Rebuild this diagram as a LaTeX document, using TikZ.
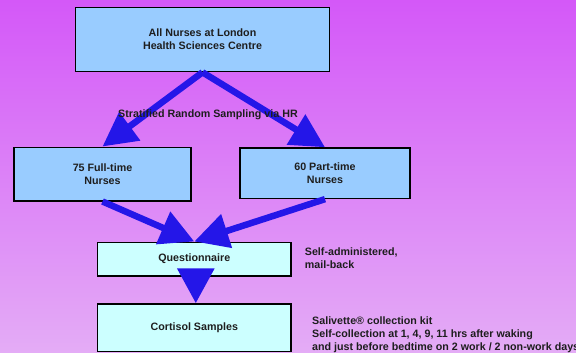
\documentclass[tikz,border=0pt]{standalone}
\usepackage{fontspec}
\setmainfont{Liberation Sans}
\usetikzlibrary{arrows.meta}
\definecolor{bgtop}{RGB}{212,88,248}
\definecolor{bgbot}{RGB}{228,172,246}
\definecolor{boxblue}{RGB}{153,204,255}
\definecolor{boxcyan}{RGB}{204,255,255}
\definecolor{arrowblue}{RGB}{36,22,232}
\definecolor{txt}{RGB}{30,30,30}
\tikzset{
  flowbox/.style={draw=black, line width=1.6pt, fill=boxblue, inner sep=0pt, align=center,
    font=\bfseries\fontsize{10.7}{12.7}\selectfont, text=txt},
  flowboxc/.style={flowbox, fill=boxcyan},
  bigarrow/.style={draw=arrowblue, line width=6.5pt, -{Triangle[length=34pt,width=34pt]}, arrowblue},
  note/.style={font=\bfseries\fontsize{10.7}{12.7}\selectfont, text=txt, align=left, inner sep=0pt, anchor=west}
}
\begin{document}
\begin{tikzpicture}[x=1pt,y=-1pt]
\useasboundingbox (0,0) rectangle (576,353);
\clip (0,0) rectangle (576,353);
\shade[top color=bgtop, bottom color=bgbot] (0,0) rectangle (576,353);

\node[flowbox, minimum width=254pt, minimum height=64pt] (all) at (202.5,39.5) {All Nurses at London\\Health Sciences Centre};
\node[flowbox, minimum width=177pt, minimum height=53.4pt] (ft) at (102.5,174) {75 Full-time\\Nurses};
\node[flowbox, minimum width=170pt, minimum height=50.3pt] (pt) at (325,173.2) {60 Part-time\\Nurses};
\node[flowboxc, minimum width=193.3pt, minimum height=33.4pt] (q) at (194.3,259) {Questionnaire};
\node[flowboxc, minimum width=193.3pt, minimum height=47.3pt] (c) at (194.3,327.7) {Cortisol Samples};

\draw[bigarrow] (all.south) -- (ft.north);
\draw[bigarrow] (all.south) -- (pt.north);
\draw[bigarrow] (ft.south) -- (q.north);
\draw[bigarrow] (pt.south) -- (q.north);
\draw[bigarrow, -{Triangle[length=35pt,width=36pt]}, shorten <=-5pt] ([xshift=1.5pt]q.south) -- ([xshift=1.5pt]c.north);

\node[font=\bfseries\fontsize{10.7}{12.7}\selectfont, text=txt, inner sep=0pt] (lab) at (208,115) {Stratified Random Sampling via HR};
\node[note] (n1) at (304.7,258.3) {Self-administered,\\mail-back};
\node[note, font=\bfseries\fontsize{10.7}{13.2}\selectfont] (n2) at (312,335) {Salivette® collection kit\\Self-collection at 1, 4, 9, 11 hrs after waking\\and just before bedtime on 2 work / 2 non-work days};
\end{tikzpicture}
\end{document}
